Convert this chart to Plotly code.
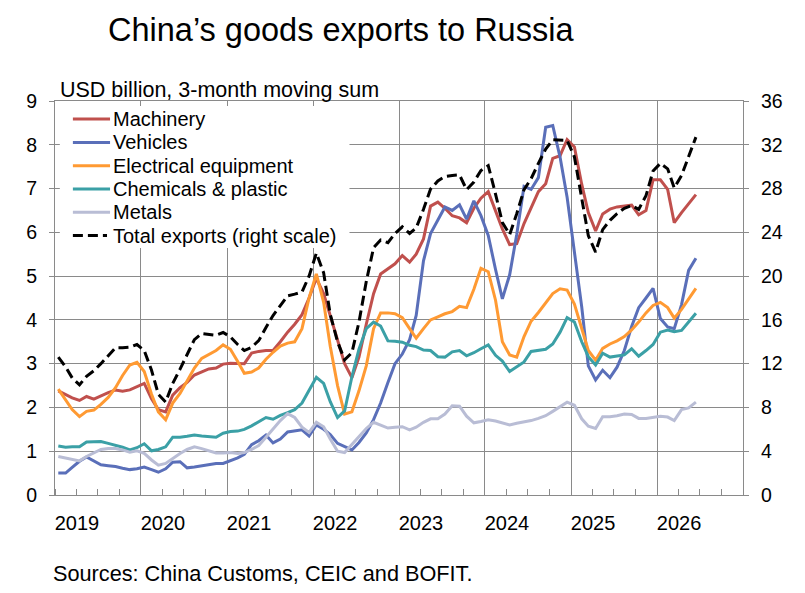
import pandas as pd
import plotly.graph_objects as go

# monthly data, Jan 2019 - Jun 2026 (3-month moving sums, USD bn)
months = pd.date_range('2019-01-01', periods=90, freq='MS') + pd.Timedelta(days=14)

machinery = [2.38, 2.30, 2.22, 2.16, 2.25, 2.19, 2.27, 2.34, 2.40, 2.37, 2.40, 2.48,
             2.55, 2.20, 1.95, 1.90, 2.28, 2.45, 2.57, 2.74, 2.82, 2.88, 2.90, 2.99,
             3.01, 3.01, 3.00, 3.24, 3.28, 3.30, 3.30, 3.50, 3.72, 3.90, 4.12, 4.50,
             4.95, 4.60, 4.10, 3.55, 3.00, 2.68, 3.15, 3.90, 4.60, 5.05, 5.16, 5.28,
             5.47, 5.32, 5.50, 5.85, 6.60, 6.69, 6.55, 6.38, 6.33, 6.22, 6.55, 6.78,
             6.93, 6.50, 6.08, 5.72, 5.74, 6.20, 6.58, 6.93, 7.11, 7.69, 7.75, 8.12,
             7.95, 7.10, 6.45, 6.03, 6.42, 6.53, 6.58, 6.60, 6.62, 6.40, 6.50, 7.20,
             7.20, 6.98, 6.22, 6.45, 6.65, 6.86]

vehicles = [0.50, 0.50, 0.63, 0.77, 0.87, 0.78, 0.69, 0.67, 0.65, 0.61, 0.58, 0.60,
            0.64, 0.58, 0.52, 0.60, 0.75, 0.76, 0.62, 0.64, 0.67, 0.70, 0.72, 0.72,
            0.78, 0.85, 0.93, 1.15, 1.24, 1.37, 1.19, 1.28, 1.44, 1.47, 1.49, 1.35,
            1.60, 1.50, 1.38, 1.18, 1.10, 1.03, 1.20, 1.42, 1.72, 2.10, 2.57, 3.00,
            3.22, 3.55, 4.10, 5.35, 5.97, 6.29, 6.58, 6.50, 6.63, 6.30, 6.72, 6.38,
            5.93, 5.15, 4.48, 5.03, 5.95, 7.05, 6.98, 7.25, 8.40, 8.44, 7.72, 6.80,
            5.60, 4.30, 2.95, 2.63, 2.85, 2.68, 2.92, 3.30, 3.85, 4.28, 4.50, 4.72,
            4.03, 3.84, 3.80, 4.35, 5.13, 5.41]

electrical = [2.42, 2.17, 1.95, 1.79, 1.91, 1.94, 2.07, 2.23, 2.45, 2.73, 2.97, 3.03,
              2.82, 2.30, 1.90, 1.72, 2.10, 2.32, 2.60, 2.90, 3.12, 3.20, 3.30, 3.43,
              3.33, 3.05, 2.78, 2.81, 2.90, 3.10, 3.26, 3.40, 3.47, 3.50, 3.80, 4.50,
              5.05, 4.40, 3.40, 2.50, 1.85, 1.90, 2.38, 2.95, 3.80, 4.16, 4.16, 4.14,
              4.05, 3.80, 3.58, 3.80, 4.00, 4.07, 4.14, 4.19, 4.31, 4.28, 4.70, 5.18,
              5.10, 4.45, 3.50, 3.20, 3.15, 3.62, 3.97, 4.17, 4.40, 4.60, 4.71, 4.68,
              4.36, 3.82, 3.30, 3.08, 3.35, 3.45, 3.52, 3.62, 3.77, 3.95, 4.16, 4.33,
              4.40, 4.28, 4.04, 4.24, 4.49, 4.72]

chemicals = [1.12, 1.09, 1.10, 1.10, 1.21, 1.22, 1.22, 1.18, 1.14, 1.09, 1.03, 1.08,
             1.17, 1.01, 1.04, 1.10, 1.32, 1.32, 1.34, 1.37, 1.35, 1.33, 1.32, 1.41,
             1.45, 1.46, 1.50, 1.58, 1.67, 1.77, 1.73, 1.82, 1.88, 1.95, 2.10, 2.40,
             2.69, 2.55, 2.13, 1.77, 1.92, 2.70, 3.33, 3.80, 3.95, 3.86, 3.52, 3.51,
             3.49, 3.42, 3.39, 3.31, 3.30, 3.16, 3.15, 3.27, 3.30, 3.18, 3.25, 3.34,
             3.43, 3.19, 3.06, 2.82, 2.92, 3.04, 3.28, 3.30, 3.33, 3.45, 3.72, 4.05,
             3.95, 3.50, 3.16, 2.97, 3.24, 3.15, 3.18, 3.20, 3.34, 3.17, 3.30, 3.44,
             3.72, 3.77, 3.73, 3.76, 3.95, 4.15]

metals = [0.88, 0.84, 0.81, 0.78, 0.88, 0.96, 1.04, 1.06, 1.06, 1.03, 0.98, 1.01,
          0.95, 0.80, 0.68, 0.72, 0.84, 0.95, 1.04, 1.10, 1.06, 1.01, 0.96, 0.96,
          0.97, 0.95, 0.97, 1.04, 1.13, 1.32, 1.52, 1.70, 1.86, 1.77, 1.55, 1.43,
          1.66, 1.56, 1.28, 1.00, 0.97, 1.16, 1.33, 1.52, 1.66, 1.60, 1.53, 1.55,
          1.56, 1.49, 1.55, 1.66, 1.74, 1.74, 1.85, 2.04, 2.03, 1.80, 1.65, 1.68,
          1.72, 1.69, 1.65, 1.60, 1.64, 1.67, 1.70, 1.75, 1.81, 1.91, 2.02, 2.12,
          2.05, 1.74, 1.57, 1.52, 1.79, 1.79, 1.81, 1.85, 1.84, 1.75, 1.75, 1.77,
          1.80, 1.78, 1.70, 1.95, 1.99, 2.12]

# right scale
total = [12.6, 11.7, 10.7, 10.06, 10.85, 11.35, 12.0, 12.7, 13.45, 13.45, 13.5, 13.75,
         13.2, 11.4, 9.2, 8.5, 10.2, 11.5, 12.9, 14.2, 14.75, 14.7, 14.6, 14.85,
         14.45, 13.75, 13.2, 13.5, 14.1, 15.3, 16.4, 17.3, 18.2, 18.35, 18.55, 20.0,
         22.1, 20.3, 16.5, 14.0, 12.35, 13.0, 15.8, 19.5, 22.6, 23.3, 23.05, 23.9,
         24.5, 23.9, 24.4, 26.1, 27.95, 28.7, 29.1, 29.2, 29.25, 27.9, 28.6, 29.65,
         30.1, 27.5, 24.9, 23.8, 25.7, 27.9, 28.9, 30.3, 31.6, 32.45, 32.4, 32.4,
         30.9, 27.2, 23.7, 22.2, 24.25, 25.1, 25.7, 26.2, 26.45, 26.1, 27.35, 29.6,
         30.3, 29.8, 28.05, 29.2, 31.0, 32.7]

years = list(range(2019, 2027))
year_ticks = ['%d-01-01' % y for y in years]
year_labels = [str(y) for y in years]

GRID = '#8a8a8a'
FONT = 'Liberation Sans, Arial, sans-serif'
DASH = '10px,5px'

series = [('Machinery', machinery, '#c0504d'),
          ('Vehicles', vehicles, '#5a6fb9'),
          ('Electrical equipment', electrical, '#ff9a33'),
          ('Chemicals & plastic', chemicals, '#3ba0a6'),
          ('Metals', metals, '#b9bdd5')]

fig = go.Figure()
for name, vals, col in series:
    fig.add_trace(go.Scatter(x=months, y=vals, name=name, mode='lines',
                             line=dict(color=col, width=3)))
fig.add_trace(go.Scatter(x=months, y=total, name='Total exports (right scale)',
                         mode='lines', yaxis='y2',
                         line=dict(color='black', width=3, dash=DASH)))

# legend drawn as a white box in the upper left corner of the plot
legend_items = [(name, col, 'solid', 0.080) for name, _, col in series]
legend_items.append(('Total exports (right scale)', 'black', DASH, 0.0756))

shapes = [dict(type='rect', xref='paper', yref='paper', x0=0.007, x1=0.428,
               y0=0.627, y1=0.987, fillcolor='white', line=dict(width=0),
               layer='above')]
annotations = []
for k, (name, col, dash, xend) in enumerate(legend_items):
    yy = 0.954 - k * 0.0591
    shapes.append(dict(type='line', xref='paper', yref='paper', x0=0.026, x1=xend,
                       y0=yy, y1=yy, line=dict(color=col, width=3, dash=dash),
                       layer='above'))
    annotations.append(dict(text=name, xref='paper', yref='paper', x=0.082, y=yy,
                            xanchor='left', yanchor='middle', showarrow=False,
                            font=dict(size=20)))

annotations += [
    dict(text='USD billion, 3-month moving sum', xref='paper', yref='paper',
         x=(58 - 55) / 688, y=(495 - 90) / 394, xanchor='left', yanchor='middle',
         showarrow=False, font=dict(size=21.5)),
    dict(text='Sources: China Customs, CEIC and BOFIT.', xref='paper', yref='paper',
         x=(51 - 55) / 688, y=(495 - 573) / 394, xanchor='left', yanchor='middle',
         showarrow=False, font=dict(size=21.7)),
]

fig.update_layout(
    width=805, height=593,
    margin=dict(l=47, r=70, t=93, b=106),
    paper_bgcolor='white', plot_bgcolor='white',
    font=dict(family=FONT, size=19.5, color='black'),
    showlegend=False,
    title=dict(text='China’s goods exports to Russia', x=100 / 805, xanchor='left',
               y=1 - 22 / 593, yanchor='middle', font=dict(size=32.5)),
    xaxis=dict(type='date', range=['2019-01-01', '2027-01-01'],
               tickvals=year_ticks, ticktext=year_labels, ticks='',
               ticklabelshift=22, ticklabelstandoff=10, tickfont=dict(size=20),
               showgrid=True, gridcolor=GRID, gridwidth=1,
               showline=True, linecolor=GRID, linewidth=1, mirror=True,
               minor=dict(dtick='M3', tick0='2019-01-01', ticks='inside',
                          ticklen=6, tickcolor=GRID, showgrid=False),
               zeroline=False),
    yaxis=dict(range=[0, 9], dtick=1, ticks='outside', ticklen=5, tickcolor=GRID,
               showgrid=True, gridcolor=GRID, showline=True, linecolor=GRID,
               zeroline=False, ticklabelstandoff=8),
    yaxis2=dict(range=[0, 36], dtick=4, overlaying='y', side='right',
                ticks='outside', ticklen=5, tickcolor=GRID, showgrid=False,
                showline=True, linecolor=GRID, zeroline=False, ticklabelstandoff=8),
    shapes=shapes,
    annotations=annotations,
)

fig.write_html('out.html')
